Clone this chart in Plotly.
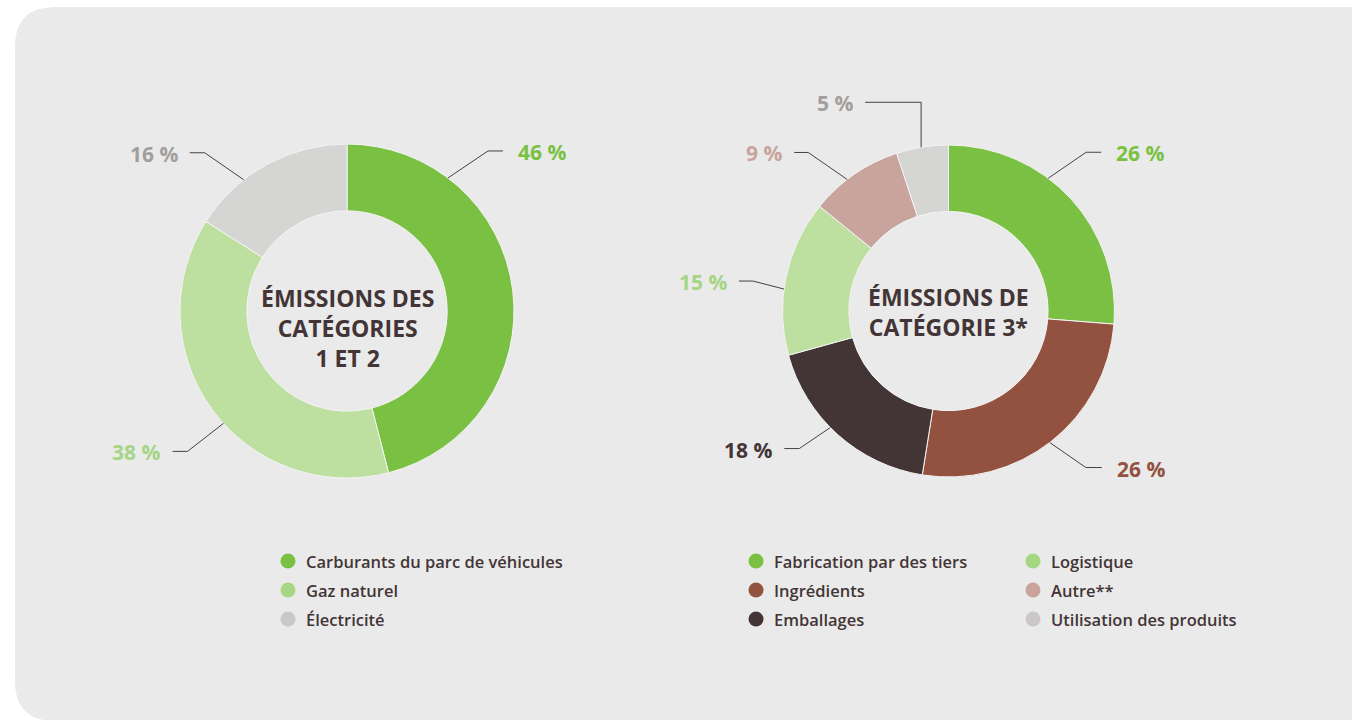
import math
import plotly.graph_objects as go

# ---------------- data ----------------
cat12_labels = ["Carburants du parc de véhicules", "Gaz naturel", "Électricité"]
cat12_values = [46, 38, 16]

cat3_labels = ["Fabrication par des tiers", "Ingrédients", "Emballages",
               "Logistique", "Autre**", "Utilisation des produits"]
cat3_values = [26, 26, 18, 15, 9, 5]

center1_text = "ÉMISSIONS DES<br>CATÉGORIES<br>1 ET 2"
center2_text = "ÉMISSIONS DE<br>CATÉGORIE 3*"

# ---------------- styles ----------------
W, H = 1352, 720
DARK = "#433536"
slice_colors1 = ["#7ac143", "#bde0a0", "#d5d5d3"]
slice_colors2 = ["#7ac143", "#93513f", "#433536", "#bde0a0", "#c8a49d", "#d5d5d3"]
legend_colors1 = ["#7ac143", "#a5d681", "#cac7c7"]
legend_colors2 = ["#7ac143", "#93513f", "#433536", "#a5d681", "#c8a49d", "#cac7c7"]
label_colors1 = ["#7ac143", "#a5d585", "#a39e9e"]
label_colors2 = ["#7ac143", "#93513f", "#433536", "#a5d585", "#c8a49d", "#a39e9e"]
FONT = "Open Sans"

# pie geometry (pixels)
PIE1 = dict(cx=347, cy=311, r=167, text_cy=328)
PIE2 = dict(cx=948.5, cy=311, r=166, text_cy=312)
HOLE = 0.6

# leader-line layout per label: anchor angle (deg, clockwise from top),
# elbow offset (dx, dy) from anchor, horizontal run length
leaders1 = [(37.2, 40, -27, 15), (227.7, -36, 28, 15), (321.8, -39, -27, 15)]
leaders2 = [(36.9, 38, -26, 15), (142.4, 36, 25, 16), (225.4, -31, 21, 15),
            (277.6, -31, -8, 14), (322.4, -39, -27, 14), (350.5, 0, -45, 56)]


def px(x):
    return x / W


def py(y):
    return 1 - y / H


def domain(p):
    return dict(x=[px(p["cx"] - p["r"]), px(p["cx"] + p["r"])],
                y=[py(p["cy"] + p["r"]), py(p["cy"] - p["r"])])


fig = go.Figure()

# background rounded card
x0, y0, x1, y1, rad = 15, 7, 1400, 721, 40
card = (f"M {px(x0)} {py(y0 + rad)} Q {px(x0)} {py(y0)} {px(x0 + rad)} {py(y0)} "
        f"L {px(x1)} {py(y0)} L {px(x1)} {py(y1)} L {px(x0 + rad)} {py(y1)} "
        f"Q {px(x0)} {py(y1)} {px(x0)} {py(y1 - rad)} Z")
shapes = [dict(type="path", path=card, xref="paper", yref="paper",
               fillcolor="#eaeaea", line=dict(width=0), layer="below")]

for p, labels, vals, cols in [(PIE1, cat12_labels, cat12_values, slice_colors1),
                              (PIE2, cat3_labels, cat3_values, slice_colors2)]:
    fig.add_trace(go.Pie(
        labels=labels, values=vals, hole=HOLE, sort=False, direction="clockwise",
        rotation=0, textinfo="none", hoverinfo="label+percent",
        marker=dict(colors=cols, line=dict(color="#f4f4f4", width=1)),
        domain=domain(p), showlegend=False))

annotations = []

# center texts
for p, txt in [(PIE1, center1_text), (PIE2, center2_text)]:
    annotations.append(dict(x=px(p["cx"]), y=py(p["text_cy"]), xref="paper", yref="paper",
                            text=txt, showarrow=False, xanchor="center", yanchor="middle",
                            align="center",
                            font=dict(family=FONT, size=23, color=DARK, weight="bold")))

# value labels with leader lines
for p, vals, leaders, lcols in [(PIE1, cat12_values, leaders1, label_colors1),
                                (PIE2, cat3_values, leaders2, label_colors2)]:
    for v, (ang, dx, dy, run), c in zip(vals, leaders, lcols):
        a = math.radians(ang)
        ax = p["cx"] + p["r"] * math.sin(a)
        ay = p["cy"] - p["r"] * math.cos(a)
        ex, ey = ax + dx, ay + dy
        right = (ang < 180)
        fx = ex + run if right else ex - run
        path = f"M {px(ax)} {py(ay)} L {px(ex)} {py(ey)} L {px(fx)} {py(ey)}"
        shapes.append(dict(type="path", path=path, xref="paper", yref="paper",
                           line=dict(color="#4a3f40", width=1)))
        annotations.append(dict(
            x=px(fx + (13 if right else -10)), y=py(ey + 1), xref="paper", yref="paper",
            text=f"{v} %", showarrow=False,
            xanchor="left" if right else "right", yanchor="middle",
            font=dict(family=FONT, size=21, color=c, weight="bold")))

# custom legends
def add_legend(labels, colors, columns):
    for (dot_x, text_x, rows_y, idxs) in columns:
        for ry, i in zip(rows_y, idxs):
            rr = 7.5
            shapes.append(dict(type="circle", xref="paper", yref="paper",
                               x0=px(dot_x - rr), x1=px(dot_x + rr),
                               y0=py(ry + rr), y1=py(ry - rr),
                               fillcolor=colors[i], line=dict(width=0)))
            annotations.append(dict(x=px(text_x), y=py(ry), xref="paper", yref="paper",
                                    text=labels[i], showarrow=False,
                                    xanchor="left", yanchor="middle",
                                    font=dict(family=FONT, size=16.5, color=DARK, weight=600)))


rows = [561, 590, 619]
add_legend(cat12_labels, legend_colors1, [(288, 304, rows, [0, 1, 2])])
add_legend(cat3_labels, legend_colors2, [(756, 772, rows, [0, 1, 2]),
                                          (1033, 1049, rows, [3, 4, 5])])

fig.update_layout(
    width=W, height=H, margin=dict(l=0, r=0, t=0, b=0),
    paper_bgcolor="white", plot_bgcolor="white",
    shapes=shapes, annotations=annotations,
    font=dict(family=FONT, color=DARK),
)

fig.write_html("out.html", config={"displayModeBar": False}, post_script=(
    "document.documentElement.style.margin='0';document.body.style.margin='0';"
    "document.body.style.overflow='hidden';document.documentElement.style.overflow='hidden';"))
